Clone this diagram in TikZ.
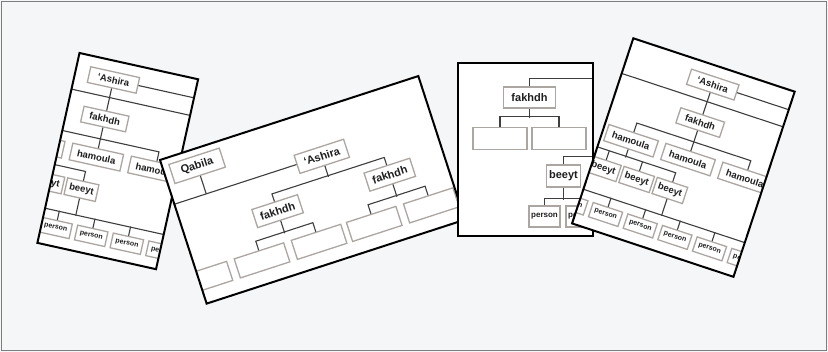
\documentclass[tikz,border=0pt]{standalone}
\usepackage{fontspec}
\newfontfamily\kinfont{Liberation Sans}
\usetikzlibrary{calc}
\definecolor{paper}{RGB}{245,246,248}
\definecolor{framegray}{RGB}{125,125,125}
\definecolor{boxgray}{RGB}{172,166,163}
\definecolor{linkgray}{RGB}{62,62,62}
\definecolor{ink}{RGB}{30,30,30}

% lineage rows shared by the two narrow cards (card units, y downwards)
\newcommand{\kintree}{%
  \coordinate (farL) at (-120,0);
  \coordinate (farR) at (320,0);
  \coordinate (rowL) at (-120,37);
  \coordinate (rowR) at (320,37);
  \coordinate (perL) at (-120,159);
  \node[kin, minimum width=50] (ash) at (90,19) {‘Ashira};
  \node[kin, minimum width=46] (fak) at (90,59) {fakhdh};
  \foreach \i/\u in {1/30, 2/90, 3/150} { \node[kin, minimum width=52, minimum height=17] (ham\i) at (\u,98) {hamoula}; }
  \foreach \i/\u in {1/-22.5, 2/12.5, 3/47.5, 4/82.5} { \node[kin, minimum width=32, minimum height=17] (bey\i) at (\u,133) {beeyt}; }
  \foreach \i/\u in {1/-7.5, 2/29, 3/65.5, 4/102, 5/138.5, 6/175} { \node[kinsmall, minimum width=31] (per\i) at (\u,176) {person}; }
  \draw[link] (ash.east) -- (ash.east -| farR);
  \draw[link] (rowL) -- (rowR);
  \draw[link] (ash.south) -- (fak.north);
  \draw[link] (fak.south) -- (ham2.north);
  \draw[link] (ham1.north) -- ++(0,-9.5) -| (ham3.north);
  \draw[link] (ham1.south) -- ++(0,8.5);
  \draw[link] (bey1.north) -- ++(0,-9.5) -| (bey4.north);
  \foreach \i in {2,3} { \draw[link] (bey\i.north) -- ++(0,-9.5); }
  \draw[link] (bey4.south) -- ++(0,17.5);
  \draw[link] (perL) -| (per6.north);
  \foreach \i in {1,...,5} { \draw[link] (per\i.north) -- ++(0,-9.5); }
}

\begin{document}
\begin{tikzpicture}[x=1pt, y=-1pt,
  card/.style={draw=black, line width=2pt, line join=miter},
  link/.style={draw=linkgray, line width=1.1pt},
  kin/.style={draw=boxgray, line width=1.3pt, fill=white, inner sep=0pt, text=ink, minimum height=16, font=\kinfont\bfseries\fontsize{9.5}{10}\selectfont},
  kinbig/.style={kin, minimum height=20, font=\kinfont\bfseries\fontsize{11}{12}\selectfont},
  kinsmall/.style={kin, minimum height=15, font=\kinfont\bfseries\fontsize{7}{8}\selectfont}]
\useasboundingbox (0,0) rectangle (828,352);
\fill[paper] (0,0) rectangle (828,352);
\draw[framegray, line width=1pt] (1.5,1.5) rectangle (826.5,350.5);

% card 1
\begin{scope}[shift={(79.5,53)}, rotate=-12.5, transform shape]
  \fill[white] (0,0) rectangle (121.5,194.5);
  \begin{scope}
    \clip (0,0) rectangle (121.5,194.5);
    \begin{scope}[shift={(-51,0)}]
      \kintree
    \end{scope}
  \end{scope}
  \draw[card] (0,0) rectangle (121.5,194.5);
\end{scope}

% card 2
\begin{scope}[shift={(160,160)}, rotate=18, transform shape]
  \fill[white] (0,0) rectangle (271.6,151);
  \begin{scope}
    \clip (0,0) rectangle (271.6,151);
    \coordinate (leftB) at (-20,46.5);
    \node[kinbig, minimum width=53] (qab) at (33.5,17) {Qabila};
    \node[kinbig, minimum width=52, minimum height=19] (ashB) at (155,46.5) {‘Ashira};
    \node[kinbig, minimum width=48, minimum height=19] (fakB1) at (96,85) {fakhdh};
    \node[kinbig, minimum width=48, minimum height=19] (fakB2) at (214,85) {fakhdh};
    \foreach \i/\u in {1/6, 2/66, 3/126, 4/184, 5/244} { \node[kinbig, minimum width=52] (leafB\i) at (\u,127) {}; }
    \draw[link] (leftB) -- (ashB.west);
    \draw[link] (qab.south) -- (qab.south |- ashB.west);
    \draw[link] (ashB.south) -- ++(0,11.5);
    \draw[link] (fakB1.north) -- ++(0,-8) -| (fakB2.north);
    \draw[link] (fakB1.south) -- ++(0,13);
    \draw[link] (leafB2.north) -- ++(0,-9.5) -| (leafB3.north);
    \draw[link] (fakB2.south) -- ++(0,13);
    \draw[link] (leafB4.north) -- ++(0,-9.5) -| (leafB5.north);
  \end{scope}
  \draw[card] (0,0) rectangle (271.6,151);
\end{scope}

% card 3
\begin{scope}[shift={(458,63)}]
  \fill[white] (0,0) rectangle (135,173);
  \begin{scope}
    \clip (0,0) rectangle (135,173);
    \coordinate (topR) at (160,15.3);
    \coordinate (midR) at (160,93.7);
    \node[kinbig, minimum width=52, minimum height=21] (fakC) at (71.5,34.5) {fakhdh};
    \node[kinbig, minimum width=54, minimum height=22] (leafC1) at (42,75.5) {};
    \node[kinbig, minimum width=54, minimum height=22] (leafC2) at (101,75.5) {};
    \node[kinbig, minimum width=34, minimum height=22] (beyC) at (105.5,113) {beeyt};
    \node[kinsmall, minimum width=31, minimum height=21, font=\kinfont\bfseries\fontsize{8}{9}\selectfont] (perC1) at (86.5,153.5) {person};
    \node[kinsmall, minimum width=31, minimum height=21, font=\kinfont\bfseries\fontsize{8}{9}\selectfont] (perC2) at (123.5,153.5) {person};
    \draw[link] (fakC.north) |- (topR);
    \draw[link] (fakC.south) -- ++(0,8.9);
    \draw[link] (leafC1.north) -- ++(0,-10.6) -| (leafC2.north);
    \draw[link] (beyC.north) |- (midR);
    \draw[link] (beyC.south) -- ++(0,12.3);
    \draw[link] (perC1.north) -- ++(0,-6.7) -| (perC2.north);
  \end{scope}
  \draw[card] (0,0) rectangle (135,173);
\end{scope}

% card 4
\begin{scope}[shift={(633.3,38.3)}, rotate=-18.3, transform shape]
  \fill[white] (0,0) rectangle (170,195);
  \begin{scope}
    \clip (0,0) rectangle (170,195);
    \kintree
  \end{scope}
  \draw[card] (0,0) rectangle (170,195);
\end{scope}
\end{tikzpicture}
\end{document}
